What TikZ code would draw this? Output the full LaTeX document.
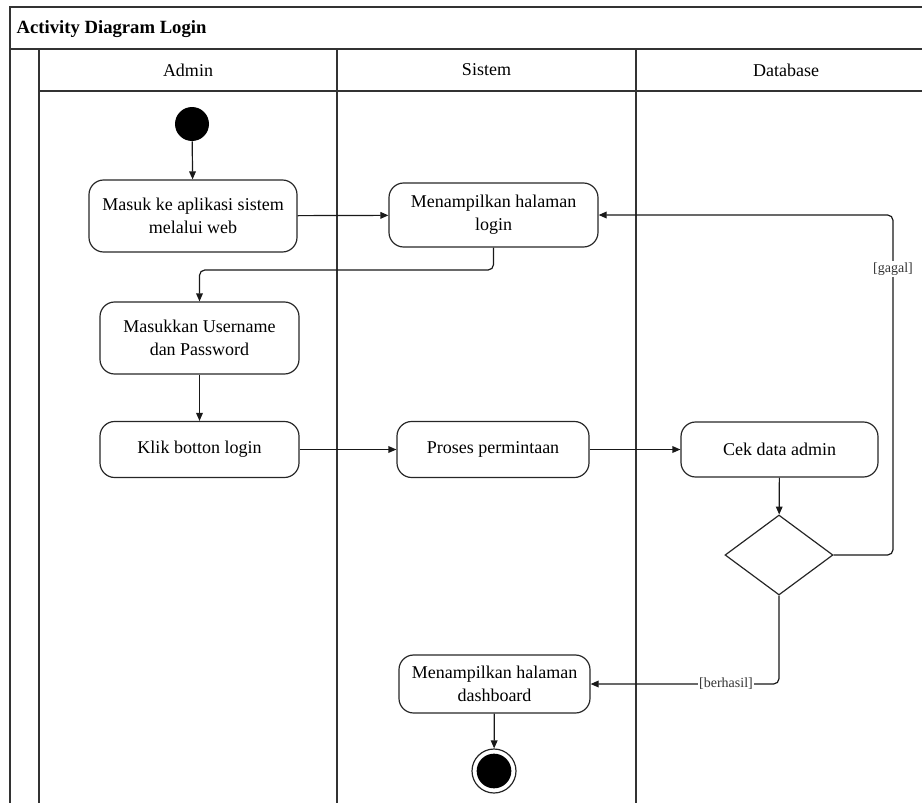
\documentclass[tikz,border=0pt]{standalone}
\usepackage{fontspec}
\setmainfont{Liberation Serif}
\usetikzlibrary{arrows.meta,shapes.geometric}
\begin{document}
\begin{tikzpicture}[x=0.75pt,y=-0.75pt,
  frame/.style={draw=black!80,line width=0.9pt},
  act/.style={draw=black!85,line width=0.9pt,rounded corners=11pt,align=center,
    font=\fontsize{13.5}{17.25}\selectfont,inner sep=0pt},
  lane/.style={font=\fontsize{13.5}{16}\selectfont},
  guard/.style={fill=white,inner sep=1pt,font=\fontsize{10.5}{12}\selectfont,text=black!80},
  flow/.style={draw=black!90,line width=0.9pt,-{Triangle[length=6pt,width=5pt]},rounded corners=4pt}]
\useasboundingbox (0,0) rectangle (922,803);
% frame and lanes
\draw[frame] (922,7) -- (10,7) -- (10,803);
\draw[frame] (10,49) -- (922,49);
\draw[frame] (39,49) -- (39,803);
\draw[frame] (39,91) -- (922,91);
\draw[frame] (337,49) -- (337,803);
\draw[frame] (636,49) -- (636,803);
\node[anchor=west,font=\fontsize{14}{16}\selectfont\bfseries] (title) at (12,29) {Activity Diagram Login};
\node[lane] (hA) at (188,70) {Admin};
\node[lane] (hS) at (486.5,70) {Sistem};
\node[lane] (hD) at (786,70) {Database};
% nodes
\node[circle,fill=black,minimum size=25.5pt,inner sep=0pt] (start) at (192,124) {};
\node[act,minimum width=156pt,minimum height=54pt] (A1) at (193,216) {Masuk ke aplikasi sistem\\melalui web};
\node[act,minimum width=156.75pt,minimum height=48pt] (S1) at (493.5,215) {Menampilkan halaman\\login};
\node[act,minimum width=149.25pt,minimum height=54pt] (A2) at (199.5,338) {Masukkan Username\\dan Password};
\node[act,minimum width=149.25pt,minimum height=42pt] (A3) at (199.5,449.5) {Klik botton login};
\node[act,minimum width=144pt,minimum height=42pt] (S2) at (493,449.5) {Proses permintaan};
\node[act,minimum width=147.75pt,minimum height=41.25pt] (D1) at (779.5,449.5) {Cek data admin};
\node[diamond,draw=black!85,line width=0.9pt,minimum width=81pt,minimum height=60pt,inner sep=0pt] (dec) at (779,555) {};
\node[act,minimum width=143.25pt,minimum height=43.5pt] (S3) at (494.5,684) {Menampilkan halaman\\dashboard};
\node[circle,draw=black!85,line width=0.9pt,minimum size=33pt,inner sep=0pt] (end) at (494,771) {};
\node[circle,fill=black,minimum size=26pt,inner sep=0pt] (endin) at (494,771) {};
% connectors
\coordinate (gx1) at (893,555);
\coordinate (gx2) at (893,215);
\coordinate (h1) at (493.5,270);
\coordinate (h2) at (199.5,270);
\coordinate (bx) at (779,684);
\draw[flow] (start) -- (A1);
\draw[flow] (A1) -- (S1);
\draw[flow] (S1.south) -- (h1) -- (h2) -- (A2.north);
\draw[flow] (A2) -- (A3);
\draw[flow] (A3) -- (S2);
\draw[flow] (S2) -- (D1);
\draw[flow] (D1) -- (dec);
\draw[flow] (dec.east) -- (gx1) -- (gx2) -- (S1.east);
\draw[flow] (dec.south) -- (bx) -- (S3.east);
\draw[flow] (S3) -- (end);
\node[guard] (lg) at (893,269) {[gagal]};
\node[guard] (lb) at (726,684) {[berhasil]};
\end{tikzpicture}
\end{document}
